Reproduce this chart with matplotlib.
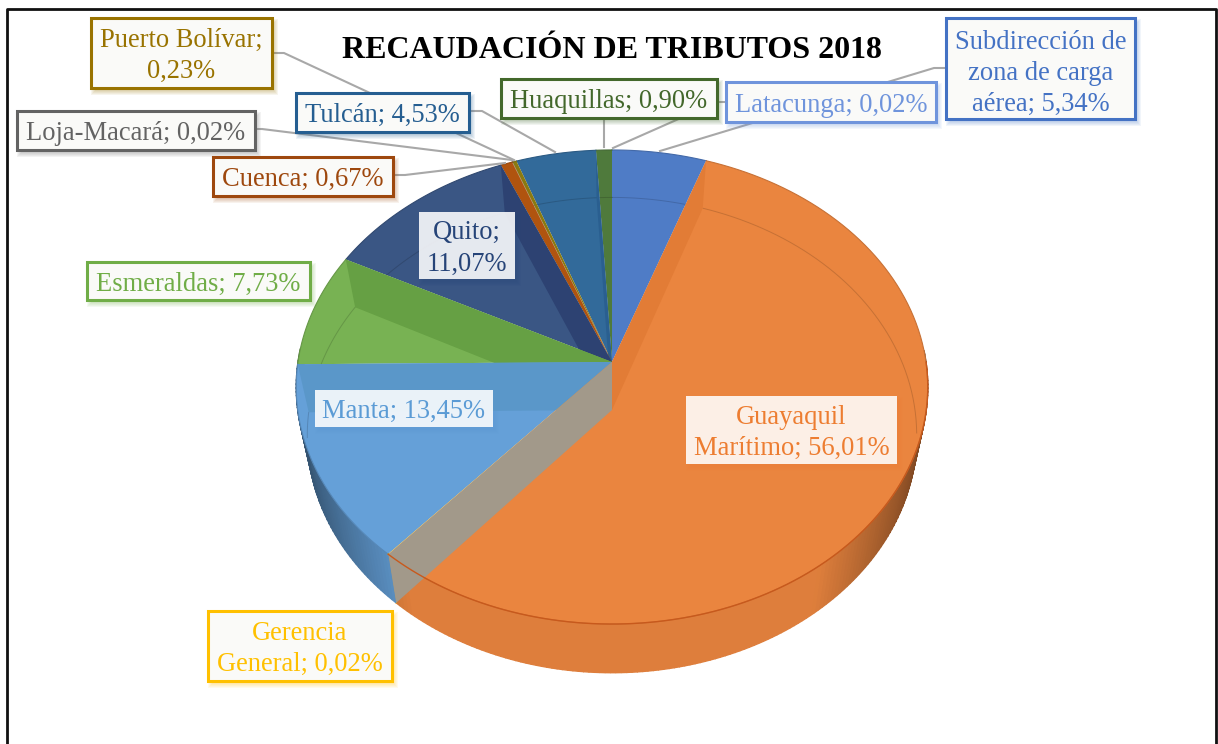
import numpy as np
import matplotlib
matplotlib.use('Agg')
import matplotlib.pyplot as plt
from matplotlib.patches import Rectangle
from matplotlib.colors import to_rgb

plt.rcParams['font.family'] = ['Liberation Serif', 'DejaVu Serif']

# clockwise from 12 o'clock, same order as the chart
names = ['Subdirección de\nzona de carga\naérea', 'Latacunga', 'Guayaquil\nMarítimo', 'Gerencia\nGeneral',
         'Manta', 'Esmeraldas', 'Quito', 'Cuenca', 'Loja-Macará', 'Puerto Bolívar', 'Tulcán', 'Huaquillas']
values = [5.34, 0.02, 56.01, 0.02, 13.45, 7.73, 11.07, 0.67, 0.02, 0.23, 4.53, 0.90]
value_labels = ['5,34%', '0,02%', '56,01%', '0,02%', '13,45%', '7,73%', '11,07%', '0,67%', '0,02%', '0,23%', '4,53%', '0,90%']
colors = ['#4f7cc6', '#6f94dc', '#ea853f', '#ffc000', '#65a0d8', '#78b253', '#3a5684', '#b0540f',
          '#636363', '#8a7a10', '#326a9a', '#4f7a3c']
text_colors = ['#4472c4', '#6f94dc', '#ed7d31', '#ffc000', '#5b9bd5', '#70ad47', '#264478', '#9e480e',
               '#636363', '#997300', '#255e91', '#43682b']

# label boxes in pixels: left, top, right, bottom
boxes = [(946, 18, 1135, 119), (726, 82, 936, 122), (686, 396, 897, 464), (208, 611, 392, 681),
         (315, 390, 493, 427), (87, 262, 310, 300), (419, 212, 515, 279), (213, 157, 393, 196),
         (17, 111, 255, 150), (91, 18, 272, 88), (296, 93, 469, 132), (501, 79, 717, 118)]
leaders = [[(946, 68), (934, 68), (660, 151)], [(726, 102), (717, 102), (613, 148)], None, None,
           None, None, None, [(393, 175), (405, 175), (505, 163)],
           [(255, 129), (262, 129), (512, 160)], [(272, 53), (284, 53), (514, 160)],
           [(469, 111), (482, 111), (555, 152)], [(604, 118), (604, 147)]]
plain_boxes = [2, 4, 6]  # labels that sit on the pie, no border

# back to front paint order of the slices, and the cut wall each one shows
paint_order = [0, 1, 11, 10, 9, 8, 7, 6, 5, 4, 2, 3]
walls = {10: (11, '#2a5f90'), 6: (7, '#2d4272'), 5: (6, '#66a044'), 4: (5, '#5a97c9'),
         2: (1, '#e27c36'), 3: (3, '#a2998a')}

fig = plt.figure(figsize=(12.18, 7.44), dpi=100)
ax = fig.add_axes([0, 0, 1, 1])
ax.set_xlim(0, 1218)
ax.set_ylim(744, 0)
ax.axis('off')


# circle -> screen, simple perspective
def top_xy(th):
    c = np.cos(th)
    s = np.sin(th)
    d = 1 + 0.1055 * c
    return 612 + 314 * s / d, 362 - 234.4 * c / d


def bottom_xy(th):
    c = np.cos(th)
    s = np.sin(th)
    d = 1 + 0.1055 * c
    return 612 + 303 * s / d, 410 - 235 * c / d


def shade(col, f):
    return tuple(min(1, v * f) for v in to_rgb(col))


vals = np.array(values)
edges = np.concatenate([[0], np.cumsum(vals)]) / vals.sum() * 2 * np.pi

# rim
for i in range(len(vals)):
    th = np.linspace(edges[i], edges[i + 1], max(3, int(vals[i] * 4)))
    for a, b in zip(th[:-1], th[1:]):
        mid = (a + b) / 2
        if np.cos(mid) > 0.05:
            continue
        xa, ya = top_xy(np.array([a, b]))
        xb, yb = bottom_xy(np.array([b, a]))
        f = 0.95 - 0.45 * max(0, abs(np.sin(mid)) - 0.6) / 0.4
        ax.fill(np.r_[xa, xb], np.r_[ya, yb], color=shade(colors[i], f), lw=1, ec=shade(colors[i], f), zorder=2)

# top faces, each followed by its cut wall (the pie is see-through)
z = 3
for i in paint_order:
    th = np.linspace(edges[i], edges[i + 1], 120)
    x, y = top_xy(th)
    ax.fill(np.r_[612, x], np.r_[362, y], color=colors[i], lw=0, zorder=z)
    ax.plot(x, y, color=shade(colors[i], 0.85), lw=0.8, zorder=z + 0.01)
    xb, yb = bottom_xy(th)
    keep = np.cos(th) > -0.12
    ax.plot(xb[keep], yb[keep], color=shade(colors[i], 0.72), lw=0.7, alpha=0.55, zorder=z + 0.02)
    if i in walls:
        e, col = walls[i]
        xt, yt = top_xy(edges[e])
        xw, yw = bottom_xy(edges[e])
        ax.fill([612, xt, xw, 612], [362, yt, yw, 410], color=col, lw=0, zorder=z + 0.03)
    z += 0.1

# front edge of the orange slice runs across the tan wall
th = np.linspace(edges[1], edges[3], 300)
x, y = top_xy(th)
keep = np.cos(th) < 0
ax.plot(x[keep], y[keep], color='#c8591c', lw=1, zorder=z)

# leaders
for ld in leaders:
    if ld is None:
        continue
    ax.plot([p[0] for p in ld], [p[1] for p in ld], color='#a8a8a8', lw=1.5, zorder=6)

# boxes and text
for i, (l, t, r, b) in enumerate(boxes):
    for k in range(5):
        ax.add_patch(Rectangle((l + 1 - k + 3, t + 1 - k + 4), r - l + 2 * k - 2, b - t + 2 * k - 2,
                               fc=text_colors[i], alpha=0.07, lw=0, zorder=7))
    if i in plain_boxes:
        ax.add_patch(Rectangle((l, t), r - l, b - t, fc='white', ec='none', alpha=0.88, zorder=7.5))
    else:
        ax.add_patch(Rectangle((l, t), r - l, b - t, fc='#fafaf8', ec=text_colors[i], lw=2.2, zorder=7.5))
    if i in (6, 9):
        s = names[i] + ';\n' + value_labels[i]
    else:
        s = names[i] + '; ' + value_labels[i]
    ax.text((l + r) / 2, (t + b) / 2 + (5 if i == 0 else 3), s, color=text_colors[i], fontsize=19.1,
            ha='center', va='center', linespacing=1.33, zorder=8)

ax.text(612.5, 51, 'RECAUDACIÓN DE TRIBUTOS 2018', fontsize=23, fontweight='bold', color='black',
        ha='center', va='center', zorder=8)

# frame, runs off the bottom of the picture
ax.plot([7, 7, 1216, 1216], [744, 8.5, 8.5, 744], color='#111111', lw=2, zorder=9)

fig.savefig('out.png', dpi=100, facecolor='white')
